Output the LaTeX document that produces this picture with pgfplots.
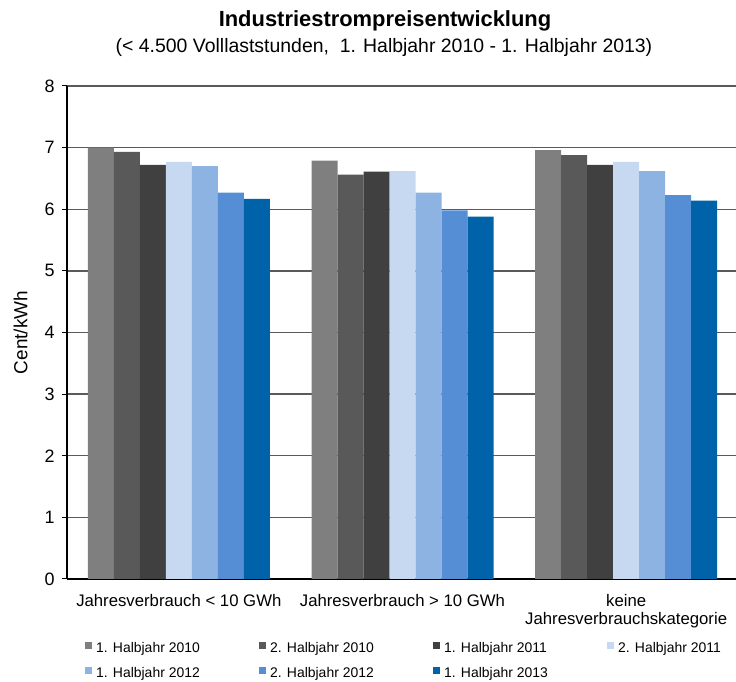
\documentclass[border=0pt]{standalone}
\usepackage{pgfplots}
\pgfplotsset{compat=1.18}
\usepackage{fontspec}
\setmainfont{Liberation Sans}
\definecolor{cA}{HTML}{7F7F7F}
\definecolor{cB}{HTML}{595959}
\definecolor{cC}{HTML}{404040}
\definecolor{cD}{HTML}{C6D9F1}
\definecolor{cE}{HTML}{8DB3E2}
\definecolor{cF}{HTML}{558ED5}
\definecolor{cG}{HTML}{0063AA}
\definecolor{gridc}{HTML}{5A5A5A}
\begin{document}
\begin{tikzpicture}[x=1bp,y=1bp]
\useasboundingbox (0,0) rectangle (736,682);
\node[font=\fontsize{22}{26}\selectfont\bfseries] at (385,661) {Industriestrompreisentwicklung};
\node[font=\fontsize{19.5}{22}\selectfont] at (384,635) {(< 4.500 Volllaststunden,\ \ 1. Halbjahr 2010 - 1. Halbjahr 2013)};
\begin{axis}[
  at={(67bp,103bp)}, anchor=south west,
  scale only axis, width=671bp, height=493bp,
  ybar=0pt, bar width=26bp,
  xmin=-0.5, xmax=2.5, ymin=0, ymax=8,
  ytick={0,1,...,8},
  xtick={0,1,2},
  xticklabels={{Jahresverbrauch < 10 GWh},{Jahresverbrauch > 10 GWh},{keine\\Jahresverbrauchskategorie}},
  xticklabel style={align=center, font=\fontsize{16.8}{17.5}\selectfont, yshift=-7bp},
  x tick style={draw=none},
  extra x ticks={-0.5,0.5,1.5,2.5},
  extra x tick labels={},
  extra x tick style={grid=none, tick style={draw=black, line width=1bp}, major tick length=6bp},
  tick align=outside,
  y tick style={draw=black, line width=1bp},
  major tick length=5bp,
  yticklabel style={font=\fontsize{18}{19}\selectfont, xshift=-4bp},
  /pgf/number format/assume math mode=true,
  ymajorgrids, grid style={draw=gridc, line width=1.4bp},
  axis lines*=left,
  axis line style={line width=1.4bp, black},
  ylabel={Cent/kWh},
  ylabel style={font=\fontsize{19}{20}\selectfont, at={(ticklabel cs:0.5)}, yshift=10bp},
  legend columns=4,
  legend style={at={(0.0268,-0.127)}, anchor=north west, draw=none, fill=none,
    font=\fontsize{14}{15}\selectfont, inner sep=0pt, row sep=12.5bp,
    nodes={inner sep=0pt},
    /tikz/every odd column/.append style={column sep=4bp},
    /tikz/every even column/.append style={column sep=0bp}},
  legend cell align=left,
  legend image code/.code={\fill[#1] (0bp,-0.5bp) rectangle (7bp,6.5bp);},
  every axis plot/.append style={draw=none},
]
\addplot[fill=cA] coordinates {(0,7.00) (1,6.79) (2,6.96)};
\addplot[fill=cB] coordinates {(0,6.93) (1,6.56) (2,6.88)};
\addplot[fill=cC] coordinates {(0,6.72) (1,6.61) (2,6.72)};
\addplot[fill=cD] coordinates {(0,6.77) (1,6.62) (2,6.77)};
\addplot[fill=cE] coordinates {(0,6.70) (1,6.27) (2,6.62)};
\addplot[fill=cF] coordinates {(0,6.27) (1,5.98) (2,6.23)};
\addplot[fill=cG] coordinates {(0,6.17) (1,5.88) (2,6.14)};
\legend{\makebox[163bp][l]{1. Halbjahr 2010},\makebox[163bp][l]{2. Halbjahr 2010},\makebox[163bp][l]{1. Halbjahr 2011},2. Halbjahr 2011,\makebox[163bp][l]{1. Halbjahr 2012},\makebox[163bp][l]{2. Halbjahr 2012},1. Halbjahr 2013}
\end{axis}
\end{tikzpicture}
\end{document}
